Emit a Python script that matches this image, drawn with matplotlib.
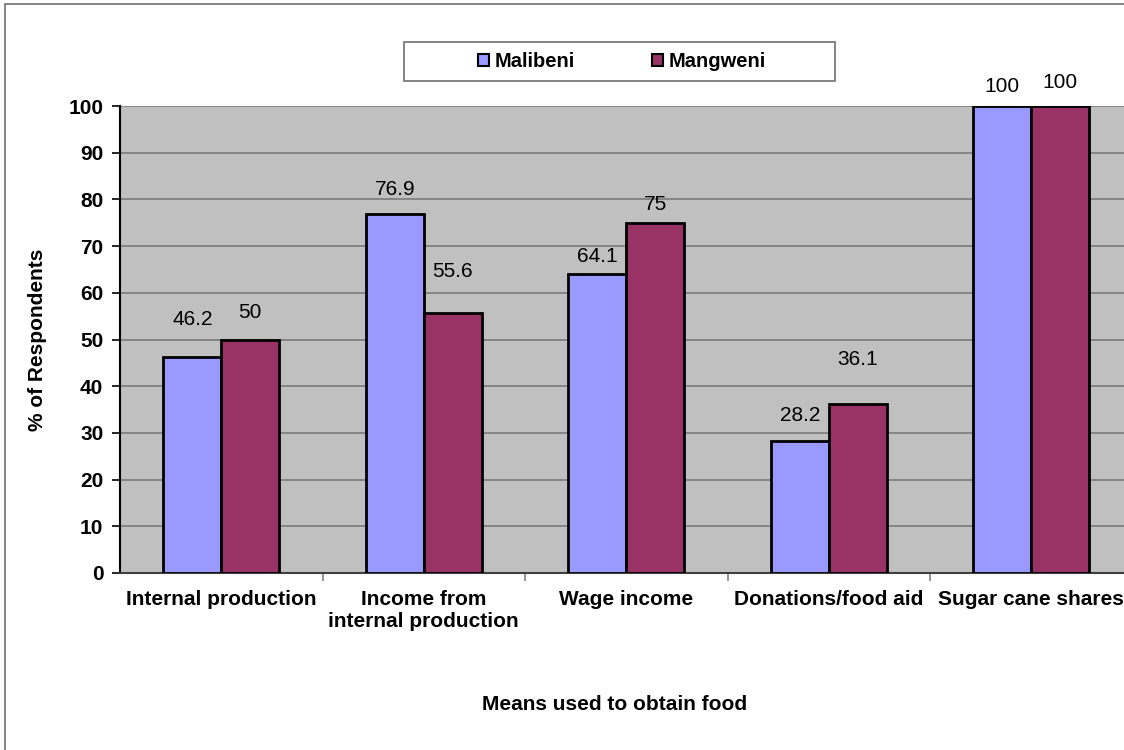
import matplotlib
matplotlib.use("Agg")
import matplotlib.pyplot as plt
from matplotlib.patches import Rectangle, Patch
import numpy as np

plt.rcParams['font.family'] = ['Liberation Sans', 'DejaVu Sans']

categories = ["Internal production", "Income from\ninternal production", "Wage income",
              "Donations/food aid", "Sugar cane shares"]
series_names = ["Malibeni", "Mangweni"]
malibeni = [46.2, 76.9, 64.1, 28.2, 100]
mangweni = [50, 55.6, 75, 36.1, 100]
yticks = list(range(0, 101, 10))

colors = ["#9999FF", "#993366"]
# vertical gap (pixels) between each bar top and its value label
label_gaps = [[28, 15, 8, 16, 10], [17, 32, 9, 35, 14]]

W, H = 1124, 750
fig = plt.figure(figsize=(W / 100, H / 100), dpi=100)

# chart frame
fig.patches.append(Rectangle((5 / W, -0.1), 1.2, 1 - 4 / H + 0.1, transform=fig.transFigure,
                             fill=False, edgecolor="#707070", linewidth=1.2, zorder=0))

ax = fig.add_axes([120 / W, (H - 573) / H, 1012.5 / W, (573 - 106) / H])
ax.set_facecolor("#C0C0C0")

x = np.arange(len(categories))
width = 0.286
for i, (vals, name) in enumerate(zip([malibeni, mangweni], series_names)):
    offs = (i - 0.5) * width
    bars = ax.bar(x + offs, vals, width, color=colors[i], edgecolor="black",
                  linewidth=2, label=name, zorder=3)
    for b, v, g in zip(bars, vals, label_gaps[i]):
        ax.annotate(f"{v:g}", (b.get_x() + b.get_width() / 2, v),
                    xytext=(0, g * 0.72), textcoords="offset points",
                    ha="center", va="bottom", fontsize=15, color="black", zorder=4)

ax.set_xlim(-0.5, len(categories) - 0.5)
ax.set_ylim(0, 100)
ax.set_yticks(yticks)
ax.set_yticklabels([str(t) for t in yticks], fontsize=15, fontweight="bold")
ax.yaxis.grid(True, color="#808080", linewidth=1.3, zorder=1)
ax.set_axisbelow(True)

ax.set_xticks(x)
ax.set_xticklabels(categories, fontsize=15, fontweight="bold", linespacing=1.2)
ax.tick_params(axis="x", length=0, pad=12)
ax.set_xticks(np.arange(len(categories)) + 0.5, minor=True)
ax.tick_params(axis="x", which="minor", length=6, color="#808080", width=1.2)
ax.tick_params(axis="y", length=6, width=1.2, color="black", pad=6)

for s in ["top", "right"]:
    ax.spines[s].set_visible(False)
ax.spines["left"].set_color("black")
ax.spines["left"].set_linewidth(1.5)
ax.spines["bottom"].set_color("#404040")
ax.spines["bottom"].set_linewidth(1.5)

ax.set_ylabel("% of Respondents", fontsize=15, fontweight="bold")
ax.yaxis.set_label_coords(-73 / 1012.5, 0.5)
fig.text(615 / W, 1 - 705 / H, "Means used to obtain food", ha="center", va="center",
         fontsize=15, fontweight="bold")

# legend box and entries
fig.patches.append(Rectangle((404 / W, 1 - 81 / H), (835 - 404) / W, (81 - 42) / H,
                             transform=fig.transFigure, facecolor="white",
                             edgecolor="#707070", linewidth=1.2, zorder=2))
handles = [Patch(facecolor=c, edgecolor="black", linewidth=1.5) for c in colors]
leg = fig.legend(handles, series_names, loc="center", bbox_to_anchor=(622 / W, 1 - 61.5 / H),
                 ncol=2, frameon=False,
                 prop={"size": 14.5, "weight": "bold"}, handlelength=0.55, handleheight=0.55,
                 handletextpad=0.3, columnspacing=3.8, borderpad=0.0)
leg.set_zorder(3)

fig.savefig("out.png", dpi=100)
